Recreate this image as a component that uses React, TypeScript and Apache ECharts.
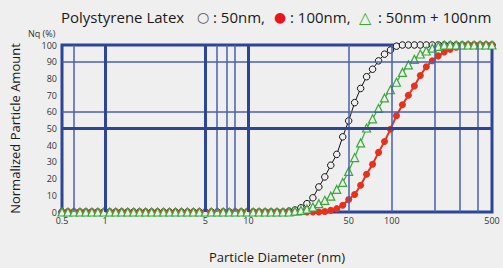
import React, { useEffect, useRef } from 'react';
import * as echarts from 'echarts';

// particle diameter channels (nm)
const diameters = [
  0.5, 0.55, 0.606, 0.667, 0.734, 0.808, 0.889, 0.979, 1.077, 1.186,
  1.305, 1.437, 1.581, 1.741, 1.916, 2.109, 2.321, 2.555, 2.812, 3.096,
  3.408, 3.751, 4.129, 4.545, 5.0, 5.504, 6.058, 6.668, 7.34, 8.079,
  8.893, 9.789, 10.78, 11.86, 13.06, 14.37, 15.82, 17.41, 19.17, 21.1,
  23.22, 25.56, 28.13, 30.96, 34.08, 37.51, 41.29, 45.45, 50.0, 55.04,
  60.58, 66.68, 73.4, 80.79, 88.93, 97.89, 107.8, 118.6, 130.5, 143.7,
  158.1, 174.0, 191.6, 210.9, 232.1, 255.5, 281.2, 309.5, 340.7, 375.0,
  412.8, 454.4, 500,
];

// ○ : 50nm
const latex50 = [
  0, 0, 0, 0, 0, 0, 0, 0, 0, 0,
  0, 0, 0, 0, 0, 0, 0, 0, 0, 0,
  0, 0, 0, 0, 0, 0, 0, 0, 0, 0,
  0, 0, 0, 0, 0, 0, 0, 0, 0.5, 1.2,
  2.5, 5, 8.5, 15, 21, 28, 34.5, 45, 54.6, 65.5,
  74, 81, 85.5, 90.5, 94.5, 97, 99.3, 100, 100, 100,
  100, 100, 100, 100, 100, 100, 100, 100, 100, 100,
  100, 100, 100,
];

// ● : 100nm
const latex100 = [
  0, 0, 0, 0, 0, 0, 0, 0, 0, 0,
  0, 0, 0, 0, 0, 0, 0, 0, 0, 0,
  0, 0, 0, 0, 0, 0, 0, 0, 0, 0,
  0, 0, 0, 0, 0, 0, 0, 0, 0, 0,
  0, 0, 0, 0, 0.3, 1, 2, 4, 7.5, 10.5,
  16, 22.6, 28.6, 35.7, 42.2, 49.6, 57.7, 64.2, 69.9, 75.5,
  81.7, 87, 90.6, 93.5, 95.8, 97.4, 98.6, 99.5, 100, 100,
  100, 100, 100,
];

// △ : 50nm + 100nm
const latexMix = [
  0, 0, 0, 0, 0, 0, 0, 0, 0, 0,
  0, 0, 0, 0, 0, 0, 0, 0, 0, 0,
  0, 0, 0, 0, 0, 0, 0, 0, 0, 0,
  0, 0, 0, 0, 0, 0, 0, 0, 0, 0.5,
  1, 1.8, 3, 5, 7, 9.5, 13.5, 17.7, 24.3, 32.6,
  41.4, 50.3, 55.8, 62, 68.3, 73.2, 77.7, 83.6, 88.1, 91.4,
  94.6, 96.4, 98.1, 99.2, 100, 100, 100, 100, 100, 100,
  100, 100, 100,
];

const xTickLabels = [0.5, 1, 5, 10, 50, 100, 500];
const xMajorGrid = [1, 5, 10];
const xMinorGrid = [0.6, 6, 7, 8, 50, 100, 200, 300, 400];
const yMajorGrid = [50];
const yMinorGrid = [60, 90];

const BG = '#efefef';
const BLUE = '#2c4596';
const BLUE_THIN = '#4a60ad';
const RED = '#e6321d';
const GREEN = '#3aa83a';
const FONT = '"Open Sans", "Noto Sans", sans-serif';
const SYMFONT = '"DejaVu Sans", sans-serif';

export default function App() {
  const ref = useRef<HTMLDivElement>(null);

  useEffect(() => {
    const chart = echarts.init(ref.current!, null, { renderer: 'svg' });
    const pair = (ys: number[]) => diameters.map((d, i) => [d, ys[i]]);
    const thick = { color: BLUE, width: 3, type: 'solid' };
    const thin = { color: BLUE_THIN, width: 1.5, type: 'solid' };

    const gridLines = [
      ...xMinorGrid.map((v) => ({ xAxis: v, lineStyle: thin })),
      ...yMinorGrid.map((v) => ({ yAxis: v, lineStyle: thin })),
      ...xMajorGrid.map((v) => ({ xAxis: v, lineStyle: thick })),
      ...yMajorGrid.map((v) => ({ yAxis: v, lineStyle: thick })),
    ];
    const tickLines = xTickLabels.map((v) => ({
      xAxis: v,
      lineStyle: { width: 1, color: 'rgba(0,0,0,0)' },
      label: { show: true, formatter: String(v) },
    }));

    const titleText = (x: number, text: string, fill: string, size = 15, family = FONT) => ({
      type: 'text',
      x,
      y: 17,
      style: {
        text,
        fontSize: size,
        fontFamily: family,
        fill,
        verticalAlign: 'middle',
      },
    });

    chart.setOption({
      animation: false,
      backgroundColor: BG,
      textStyle: { fontFamily: FONT },
      graphic: [
        titleText(61, 'Polystyrene Latex', '#1a1a1a'),
        titleText(197, '○', '#555', 14, SYMFONT),
        titleText(213, ': 50nm,', '#1a1a1a'),
        titleText(274, '●', '#e8141e', 14, SYMFONT),
        titleText(290, ': 100nm,', '#1a1a1a'),
        titleText(359, '△', GREEN, 16, SYMFONT),
        titleText(378, ': 50nm + 100nm', '#1a1a1a'),
        {
          type: 'text',
          x: 28,
          y: 33,
          style: {
            text: 'Nq (%)',
            fontSize: 9,
            fontFamily: FONT,
            fill: '#333',
            verticalAlign: 'middle',
          },
        },
      ],
      grid: {
        left: 62,
        right: 11,
        top: 45,
        bottom: 55,
        show: true,
        borderColor: BLUE,
        borderWidth: 3,
        backgroundColor: 'transparent',
      },
      xAxis: {
        type: 'log',
        logBase: 10,
        min: 0.5,
        max: 500,
        name: 'Particle Diameter (nm)',
        nameLocation: 'middle',
        nameGap: 38,
        nameTextStyle: { fontSize: 13, color: '#1a1a1a', fontFamily: FONT },
        axisLine: { show: false },
        axisTick: { show: false },
        axisLabel: { show: false },
        splitLine: { show: false },
        minorSplitLine: { show: false },
      },
      yAxis: {
        type: 'value',
        min: 0,
        max: 100,
        interval: 10,
        name: 'Normalized Particle Amount',
        nameLocation: 'middle',
        nameGap: 41,
        nameTextStyle: { fontSize: 13, color: '#1a1a1a', fontFamily: FONT },
        axisLine: { show: false },
        axisTick: { show: false },
        axisLabel: { fontSize: 9, color: '#333', margin: 5, fontFamily: FONT },
        splitLine: { show: false },
      },
      series: [
        {
          type: 'line',
          data: [],
          z: 1,
          silent: true,
          markLine: {
            silent: true,
            symbol: 'none',
            animation: false,
            label: { show: false },
            data: gridLines,
          },
        },
        {
          type: 'line',
          data: [],
          z: 1,
          silent: true,
          markLine: {
            silent: true,
            symbol: 'none',
            animation: false,
            label: {
              show: true,
              position: 'start',
              distance: 4,
              fontSize: 9,
              color: '#333',
              fontFamily: FONT,
            },
            data: tickLines,
          },
        },
        {
          name: '50nm',
          type: 'line',
          data: pair(latex50),
          z: 2,
          symbol: 'circle',
          symbolSize: 6.5,
          itemStyle: { color: BG, borderColor: '#111', borderWidth: 1 },
          lineStyle: { color: '#111', width: 1 },
        },
        {
          name: '100nm',
          type: 'line',
          data: pair(latex100),
          z: 3,
          symbol: 'circle',
          symbolSize: 7,
          itemStyle: { color: RED },
          lineStyle: { color: RED, width: 2 },
        },
        {
          name: '50nm + 100nm',
          type: 'line',
          data: pair(latexMix),
          z: 4,
          symbol: 'triangle',
          symbolSize: 8,
          itemStyle: { color: BG, borderColor: GREEN, borderWidth: 1.2 },
          lineStyle: { color: GREEN, width: 1.2 },
        },
      ],
    });
    return () => chart.dispose();
  }, []);

  return (
    <div
      ref={ref}
      style={{ position: 'fixed', left: 0, top: 0, width: 503, height: 268 }}
    />
  );
}
